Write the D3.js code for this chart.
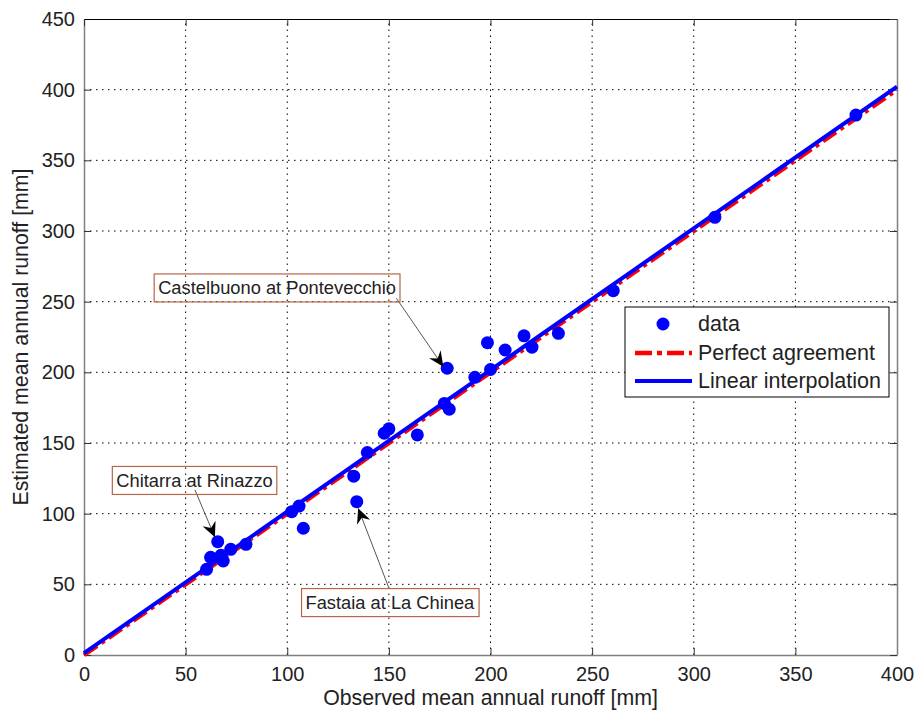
<!DOCTYPE html>
<html>
<head>
<meta charset="utf-8">
<script src="https://cdn.jsdelivr.net/npm/d3@7"></script>
<style>
  body { margin: 0; background: #fff; }
  svg { font-family: "Liberation Sans", Arial, sans-serif; }
</style>
</head>
<body>
<div id="chart"></div>
<script>
// observed vs estimated mean annual runoff [mm]
const observed  = [60.3, 62.3, 65.8, 67.4, 68.5, 72.2, 79.7, 102.2, 105.8, 107.9,
                   132.7, 134.2, 139.4, 147.7, 150.0, 164.0, 177.3, 178.7, 179.7, 192.3,
                   198.5, 200.0, 207.2, 216.5, 220.4, 233.4, 260.4, 310.4, 379.8];
const estimated = [60.6, 69.1, 80.2, 70.5, 66.5, 74.8, 78.3, 101.4, 105.4, 89.7,
                   126.5, 108.5, 143.2, 156.9, 160.0, 155.7, 178.0, 202.9, 173.9, 196.5,
                   221.0, 202.0, 215.8, 225.8, 217.8, 227.6, 257.8, 309.7, 382.0];

const xTicks = [0, 50, 100, 150, 200, 250, 300, 350, 400];
const yTicks = [0, 50, 100, 150, 200, 250, 300, 350, 400, 450];

// linear fit estimated = a + b * observed
const fitIntercept = 1.3;
const fitSlope = 1.002;

const legendLabels = ["data", "Perfect agreement", "Linear interpolation"];

// text callouts: label centre and arrow start/end in data units
const calloutText  = ["Castelbuono at Pontevecchio", "Chitarra at Rinazzo", "Fastaia at La Chinea"];
const calloutLabel = [[95, 259.7], [54.4, 123.5], [150.5, 37.1]];
const calloutFrom  = [[153.7, 252.4], [54.6, 116.8], [150.2, 46.7]];
const calloutTo    = [[176.8, 204.0], [64.4, 83.3], [134.9, 103.8]];

const width = 917, height = 713;
const margin = {top: 19, right: 20, bottom: 58, left: 84};

const svg = d3.select("#chart").append("svg")
  .attr("width", width)
  .attr("height", height);

const x = d3.scaleLinear().domain([0, 400]).range([margin.left, width - margin.right]);
const y = d3.scaleLinear().domain([0, 450]).range([height - margin.bottom, margin.top]);

// grid
svg.append("g").selectAll("line").data(xTicks.slice(1, -1)).join("line")
  .attr("x1", d => x(d)).attr("x2", d => x(d))
  .attr("y1", y(0)).attr("y2", y(450))
  .attr("stroke", "#000").attr("stroke-width", 1).attr("stroke-dasharray", "1.5,4.5");
svg.append("g").selectAll("line").data(yTicks.slice(1, -1)).join("line")
  .attr("y1", d => y(d)).attr("y2", d => y(d))
  .attr("x1", x(0)).attr("x2", x(400))
  .attr("stroke", "#000").attr("stroke-width", 1).attr("stroke-dasharray", "1.5,4.5");

// axes
const axisColor = "#808080";
const xAxis = svg.append("g")
  .attr("transform", `translate(0,${y(0)})`)
  .call(d3.axisBottom(x).tickValues(xTicks).tickSizeInner(-7).tickSizeOuter(0).tickPadding(12));
const yAxis = svg.append("g")
  .attr("transform", `translate(${x(0)},0)`)
  .call(d3.axisLeft(y).tickValues(yTicks).tickSizeInner(-7).tickSizeOuter(0).tickPadding(9));
const xTop = svg.append("g")
  .attr("transform", `translate(0,${y(450)})`)
  .call(d3.axisTop(x).tickValues(xTicks).tickSizeInner(-7).tickSizeOuter(0).tickFormat(""));
const yRight = svg.append("g")
  .attr("transform", `translate(${x(400)},0)`)
  .call(d3.axisRight(y).tickValues(yTicks).tickSizeInner(-7).tickSizeOuter(0).tickFormat(""));

[xAxis, yAxis, yRight].forEach(g => {
  g.select(".domain").attr("stroke", axisColor).attr("stroke-width", 1.5);
  g.selectAll(".tick line").attr("stroke", "#333");
});
xTop.select(".domain").attr("stroke", "#000").attr("stroke-width", 1);
xTop.selectAll(".tick line").attr("stroke", "#333");

[xAxis, yAxis].forEach(g => {
  g.selectAll(".tick text").attr("font-size", 20).attr("fill", "#222")
    .style("font-family", "'Liberation Sans', Arial, sans-serif");
});

// axis titles
svg.append("text")
  .attr("x", (x(0) + x(400)) / 2).attr("y", 705)
  .attr("text-anchor", "middle").attr("font-size", 21.3).attr("fill", "#222")
  .text("Observed mean annual runoff [mm]");
svg.append("text")
  .attr("transform", `translate(28,${(y(0) + y(450)) / 2}) rotate(-90)`)
  .attr("text-anchor", "middle").attr("font-size", 21.3).attr("fill", "#222")
  .text("Estimated mean annual runoff [mm]");

// perfect agreement line
const line = d3.line().x(d => x(d[0])).y(d => y(d[1]));
svg.append("path")
  .datum([[0, 0], [400, 400]])
  .attr("d", line)
  .attr("fill", "none").attr("stroke", "#ff0000").attr("stroke-width", 4.5)
  .attr("stroke-dasharray", "16,5,4,5");

// linear interpolation
svg.append("path")
  .datum([[0, fitIntercept], [400, fitIntercept + fitSlope * 400]])
  .attr("d", line)
  .attr("fill", "none").attr("stroke", "#0000ff").attr("stroke-width", 4);

// data points
svg.append("g").selectAll("circle").data(observed).join("circle")
  .attr("cx", d => x(d))
  .attr("cy", (d, i) => y(estimated[i]))
  .attr("r", 6.5)
  .attr("fill", "#0000ff");

// arrowhead marker
svg.append("defs").append("marker")
  .attr("id", "arrow")
  .attr("viewBox", "-16 -8 17 16")
  .attr("refX", 0).attr("refY", 0)
  .attr("markerWidth", 17).attr("markerHeight", 16)
  .attr("markerUnits", "userSpaceOnUse")
  .attr("orient", "auto")
  .append("path")
  .attr("d", "M0,0 L-15,-7 L-10,0 L-15,7 Z")
  .attr("fill", "#000");

// callouts
calloutText.forEach((t, i) => {
  svg.append("line")
    .attr("x1", x(calloutFrom[i][0])).attr("y1", y(calloutFrom[i][1]))
    .attr("x2", x(calloutTo[i][0])).attr("y2", y(calloutTo[i][1]))
    .attr("stroke", "#555").attr("stroke-width", 1)
    .attr("marker-end", "url(#arrow)");

  const g = svg.append("g");
  const txt = g.append("text")
    .attr("x", x(calloutLabel[i][0])).attr("y", y(calloutLabel[i][1]))
    .attr("text-anchor", "middle").attr("dominant-baseline", "central")
    .attr("font-size", 18.3).attr("fill", "#222")
    .text(t);
  const bb = txt.node().getBBox();
  g.insert("rect", "text")
    .attr("x", bb.x - 4).attr("y", y(calloutLabel[i][1]) - 14)
    .attr("width", bb.width + 8).attr("height", 28)
    .attr("fill", "none").attr("stroke", "#b5654a").attr("stroke-width", 1.2);
});

// legend
const lg = svg.append("g").attr("transform", "translate(625,307)");
lg.append("rect")
  .attr("width", 264).attr("height", 90)
  .attr("fill", "#fff").attr("stroke", "#000").attr("stroke-width", 1);
const rowY = [17, 46, 74];
lg.append("circle").attr("cx", 38).attr("cy", rowY[0]).attr("r", 6.5).attr("fill", "#0000ff");
lg.append("line").attr("x1", 10).attr("x2", 67).attr("y1", rowY[1]).attr("y2", rowY[1])
  .attr("stroke", "#ff0000").attr("stroke-width", 4.5).attr("stroke-dasharray", "17,5,5,5");
lg.append("line").attr("x1", 10).attr("x2", 67).attr("y1", rowY[2]).attr("y2", rowY[2])
  .attr("stroke", "#0000ff").attr("stroke-width", 4);
lg.selectAll("text.lbl").data(legendLabels).join("text")
  .attr("class", "lbl")
  .attr("x", 73).attr("y", (d, i) => rowY[i])
  .attr("dominant-baseline", "central")
  .attr("font-size", 21.5).attr("fill", "#222")
  .text(d => d);
</script>
</body>
</html>
